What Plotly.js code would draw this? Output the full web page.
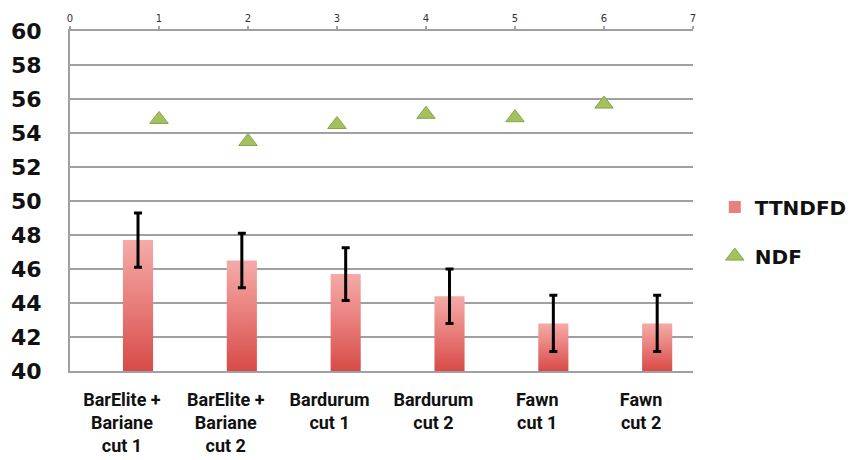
<!DOCTYPE html>
<html>
<head>
<meta charset="utf-8">
<script src="https://cdn.plot.ly/plotly-3.0.1.min.js"></script>
<style>html,body{margin:0;padding:0;background:#fff}#chart{width:850px;height:460px}</style>
</head>
<body>
<div id="chart"></div>
<script>
var categories = ["BarElite +<br>Bariane<br>cut 1", "BarElite +<br>Bariane<br>cut 2", "Bardurum<br>cut 1", "Bardurum<br>cut 2", "Fawn<br>cut 1", "Fawn<br>cut 2"];
var ttndfd = [47.7, 46.5, 45.7, 44.4, 42.8, 42.8];
var ttndfdErr = [1.6, 1.6, 1.55, 1.6, 1.65, 1.65];
var ndfX = [1, 2, 3, 4, 5, 6];
var ndf = [54.8, 53.5, 54.5, 55.1, 54.9, 55.7];

var lbl = {family: "Roboto, sans-serif", color: "#111", weight: "bold"};

var traces = [
  {
    type: "bar", name: "TTNDFD", x: categories, y: ttndfd,
    xaxis: "x", yaxis: "y", legendgroup: "a",
    width: 0.29, offset: 0.01,
    marker: {color: "#e8807e", line: {width: 0}},
    error_y: {type: "data", array: ttndfdErr, visible: true, color: "#000", thickness: 3, width: 4}
  },
  {
    type: "scatter", mode: "markers", name: "NDF", x: ndfX, y: ndf,
    xaxis: "x2", yaxis: "y", legendgroup: "b",
    marker: {symbol: "triangle-up", size: 16, color: "#a5c15e", line: {color: "#86a447", width: 1}}
  }
];

var layout = {
  width: 850, height: 460,
  margin: {l: 70, r: 157, t: 31, b: 89, autoexpand: false},
  paper_bgcolor: "#fff", plot_bgcolor: "#fff",
  showlegend: true,
  legend: {x: 1.035, y: 0.41, xanchor: "left", yanchor: "middle", traceorder: "grouped", tracegroupgap: 20,
           font: {family: "DejaVu Sans, sans-serif", size: 20, color: "#111", weight: "bold"}},
  xaxis: {
    type: "category", range: [-0.5, 5.5],
    showgrid: false, zeroline: false, showline: true, linecolor: "#a0a0a0", linewidth: 2,
    ticks: "", ticklabelstandoff: 11, tickfont: Object.assign({size: 18}, lbl)
  },
  xaxis2: {
    overlaying: "x", side: "top", range: [0, 7], dtick: 1, tick0: 0,
    showgrid: false, zeroline: false, showline: true, linecolor: "#a0a0a0", linewidth: 2,
    ticks: "outside", ticklen: 3, tickcolor: "#a0a0a0", tickwidth: 2,
    tickfont: {family: "DejaVu Sans, sans-serif", size: 10, color: "#333"}
  },
  yaxis: {
    range: [40, 60], dtick: 2, tick0: 40,
    showgrid: true, gridcolor: "#a0a0a0", gridwidth: 2,
    zeroline: false, showline: true, linecolor: "#a0a0a0", linewidth: 2,
    ticks: "", ticklabelstandoff: 22,
    tickfont: {family: "DejaVu Sans, sans-serif", size: 22, color: "#111", weight: "bold"}
  }
};

Plotly.newPlot("chart", traces, layout, {displayModeBar: false, staticPlot: true}).then(function (gd) {
  var svg = gd.querySelector("svg.main-svg");
  var ns = "http://www.w3.org/2000/svg";
  var defs = svg.querySelector("defs") || svg.insertBefore(document.createElementNS(ns, "defs"), svg.firstChild);
  var plotH = gd._fullLayout._size.h;
  gd.querySelectorAll(".barlayer .point path").forEach(function (p, i) {
    var bb = p.getBBox();
    var g = document.createElementNS(ns, "linearGradient");
    g.setAttribute("id", "barGrad" + i);
    g.setAttribute("gradientUnits", "userSpaceOnUse");
    g.setAttribute("x1", "0"); g.setAttribute("x2", "0");
    g.setAttribute("y1", String(bb.y)); g.setAttribute("y2", String(plotH));
    [["0", "#f5aba8"], ["0.5", "#e87c79"], ["1", "#d74b47"]].forEach(function (s) {
      var st = document.createElementNS(ns, "stop");
      st.setAttribute("offset", s[0]); st.setAttribute("stop-color", s[1]);
      g.appendChild(st);
    });
    defs.appendChild(g);
    p.style.fill = "url(#barGrad" + i + ")";
  });
  gd.querySelectorAll(".legend path.legendbar").forEach(function (p) {
    p.setAttribute("transform", "scale(1.5)");
  });
});
</script>
</body>
</html>
